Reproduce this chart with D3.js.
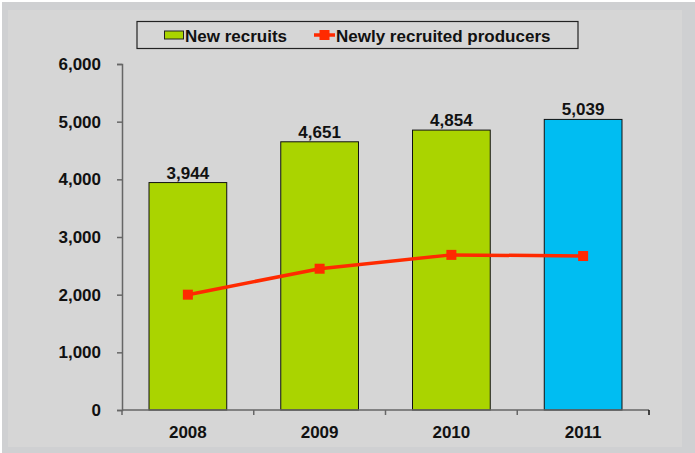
<!DOCTYPE html>
<html>
<head>
<meta charset="utf-8">
<script src="https://cdn.jsdelivr.net/npm/d3@7/dist/d3.min.js"></script>
<style>
  html, body { margin: 0; padding: 0; background: #ffffff; }
  svg { display: block; font-family: "Liberation Sans", Arial, sans-serif; }
</style>
</head>
<body>
<svg id="chart" width="695" height="453"></svg>
<script>
const years = ["2008", "2009", "2010", "2011"];
const newRecruits = [3944, 4651, 4854, 5039];
const newlyRecruitedProducers = [2000, 2450, 2690, 2670];
const barColors = ["#aad400", "#aad400", "#aad400", "#00bdf2"];
const yTicks = [0, 1000, 2000, 3000, 4000, 5000, 6000];
const seriesNames = ["New recruits", "Newly recruited producers"];

(function () {
const svg = d3.select("#chart");
svg.append("rect").attr("x", 2).attr("y", 2).attr("width", 693).attr("height", 451).attr("fill", "#cfd0d2");
svg.append("rect").attr("x", 8).attr("y", 10).attr("width", 674).attr("height", 437).attr("fill", "#d6d6d6");

const pLeft = 122, pRight = 649, pTop = 64, pBottom = 410;
const x = d3.scaleBand().domain(years).range([pLeft, pRight]).paddingInner(0.41).paddingOuter(0.205);
const y = d3.scaleLinear().domain([0, 6000]).range([pBottom, pTop]);
const fmt = d3.format(",");

// bars
svg.append("g").selectAll("rect").data(years).join("rect")
  .attr("x", d => x(d))
  .attr("y", (d, i) => y(newRecruits[i]))
  .attr("width", x.bandwidth())
  .attr("height", (d, i) => y(0) - y(newRecruits[i]))
  .attr("fill", (d, i) => barColors[i])
  .attr("stroke", "#111")
  .attr("stroke-width", 1);

// value labels
svg.append("g").selectAll("text").data(years).join("text")
  .attr("x", d => x(d) + x.bandwidth() / 2)
  .attr("y", (d, i) => y(newRecruits[i]) - 4)
  .attr("text-anchor", "middle")
  .attr("font-size", 17).attr("font-weight", "bold").attr("fill", "#111")
  .text((d, i) => fmt(newRecruits[i]));

// y axis
const yAxis = svg.append("g").attr("transform", `translate(${pLeft},0)`)
  .call(d3.axisLeft(y).tickValues(yTicks).tickFormat(fmt).tickSize(5).tickPadding(16));
yAxis.select(".domain").attr("stroke", "#666").attr("stroke-width", 1.5);
yAxis.selectAll(".tick line").attr("stroke", "#666").attr("stroke-width", 1.5);
yAxis.selectAll(".tick text").attr("font-size", 17).attr("font-weight", "bold").attr("fill", "#111")
  .attr("font-family", "'Liberation Sans', Arial, sans-serif");

// x axis
const step = x.step();
const edgeTicks = years.map((d, i) => pLeft + i * step).concat([pRight]);
const xg = svg.append("g");
xg.append("line").attr("x1", pLeft).attr("x2", pRight).attr("y1", pBottom).attr("y2", pBottom)
  .attr("stroke", "#666").attr("stroke-width", 1.5);
xg.selectAll("line.tk").data(edgeTicks).join("line").attr("class", "tk")
  .attr("x1", d => d).attr("x2", d => d)
  .attr("y1", pBottom).attr("y2", pBottom + 5)
  .attr("stroke", (d, i) => i === edgeTicks.length - 1 ? "#111" : "#666").attr("stroke-width", 1.5);
xg.selectAll("text").data(years).join("text")
  .attr("x", d => x(d) + x.bandwidth() / 2)
  .attr("y", 438)
  .attr("text-anchor", "middle")
  .attr("font-size", 17).attr("font-weight", "bold").attr("fill", "#111")
  .text(d => d);

// line
const lineGen = d3.line().x((d, i) => x(years[i]) + x.bandwidth() / 2).y(d => y(d));
svg.append("path").datum(newlyRecruitedProducers)
  .attr("d", lineGen).attr("fill", "none").attr("stroke", "#ff2a00").attr("stroke-width", 3.5);
svg.append("g").selectAll("rect").data(newlyRecruitedProducers).join("rect")
  .attr("x", (d, i) => x(years[i]) + x.bandwidth() / 2 - 5)
  .attr("y", d => y(d) - 5)
  .attr("width", 10).attr("height", 10)
  .attr("fill", "#ff2a00");

// legend
const lg = svg.append("g");
lg.append("rect").attr("x", 137).attr("y", 21.5).attr("width", 441).attr("height", 27)
  .attr("fill", "#d6d6d6").attr("stroke", "#222").attr("stroke-width", 1.2);
lg.append("rect").attr("x", 164.5).attr("y", 31).attr("width", 19).attr("height", 8)
  .attr("fill", "#aad400").attr("stroke", "#222").attr("stroke-width", 1);
lg.append("text").attr("x", 185).attr("y", 41.5).attr("font-size", 17).attr("font-weight", "bold")
  .attr("fill", "#111").text(seriesNames[0]);
lg.append("line").attr("x1", 314).attr("x2", 335).attr("y1", 35).attr("y2", 35)
  .attr("stroke", "#ff2a00").attr("stroke-width", 3.5);
lg.append("rect").attr("x", 319.5).attr("y", 30).attr("width", 10).attr("height", 10).attr("fill", "#ff2a00");
lg.append("text").attr("x", 336).attr("y", 41.5).attr("font-size", 17).attr("font-weight", "bold")
  .attr("fill", "#111").text(seriesNames[1]);
})();
</script>
</body>
</html>
